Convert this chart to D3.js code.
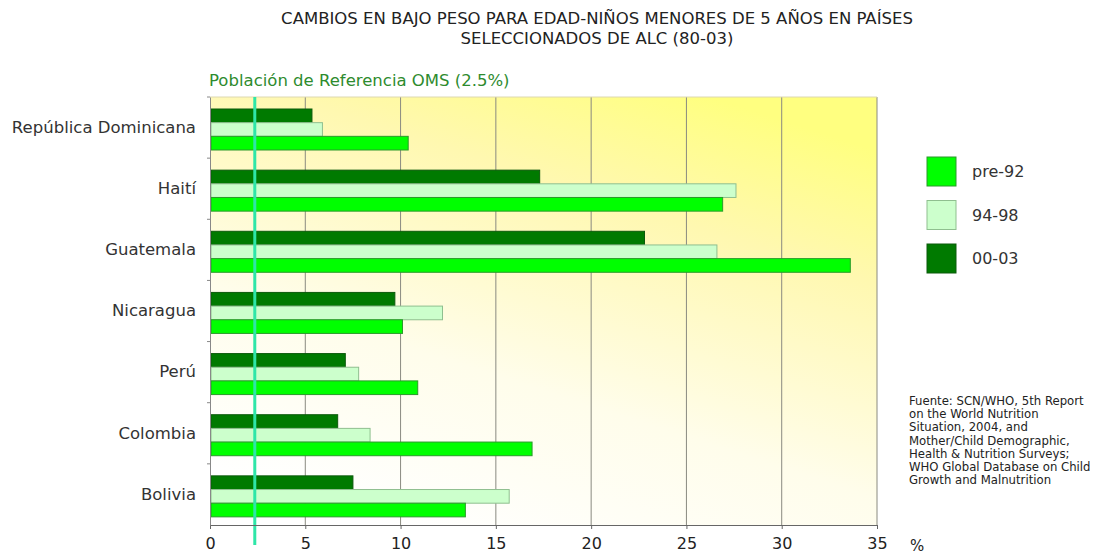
<!DOCTYPE html>
<html lang='en'>
<head>
  <meta charset='utf-8'>
  <script src="https://cdn.jsdelivr.net/npm/d3@7"></script>
  <title>Cambios en bajo peso para edad</title>
  <style>
    body { margin: 0; background: #fff; }
    text { font-family: "DejaVu Sans", sans-serif; }
  </style>
</head>
<body>
  <div id="my_dataviz"></div>

  <script>
    // data
    const countries = ["República Dominicana", "Haití", "Guatemala", "Nicaragua", "Perú", "Colombia", "Bolivia"];
    const periods = ["00-03", "94-98", "pre-92"];   // top to bottom inside each group
    const legendOrder = ["pre-92", "94-98", "00-03"];
    const pre92 = [10.4, 26.9, 33.6, 10.1, 10.9, 16.9, 13.4];
    const p9498 = [5.9, 27.6, 26.6, 12.2, 7.8, 8.4, 15.7];
    const p0003 = [5.35, 17.3, 22.8, 9.7, 7.1, 6.7, 7.5];
    const xTicks = [0, 5, 10, 15, 20, 25, 30, 35];
    const refValue = 2.35;
    const sourceLines = ["Fuente: SCN/WHO, 5th Report", "on the World Nutrition", "Situation, 2004, and",
      "Mother/Child Demographic,", "Health & Nutrition Surveys;", "WHO Global Database on Child",
      "Growth and Malnutrition"];

    const series = {"pre-92": pre92, "94-98": p9498, "00-03": p0003};
    const fill = {"pre-92": "#00ff00", "94-98": "#ccffcc", "00-03": "#007a00"};
    const stroke = {"pre-92": "#2a9a2a", "94-98": "#8fbf8f", "00-03": "#0b5a0b"};

    const margin = {top: 97, left: 210},
          width = 667, height = 428;

    const svg = d3.select("#my_dataviz")
      .append("svg")
      .attr("width", 1095)
      .attr("height", 556);

    // title
    svg.append("text")
      .attr("x", 597).attr("y", 24)
      .attr("text-anchor", "middle")
      .style("font-size", "16.5px").attr("fill", "#222")
      .selectAll("tspan")
      .data(["CAMBIOS EN BAJO PESO PARA EDAD-NIÑOS MENORES DE 5 AÑOS EN PAÍSES", "SELECCIONADOS DE ALC (80-03)"])
      .join("tspan")
        .attr("x", 597)
        .attr("dy", (d, i) => i ? 20 : 0)
        .text(d => d);

    const defs = svg.append("defs");
    const grad = defs.append("linearGradient")
      .attr("id", "bg")
      .attr("x1", 0.25).attr("y1", 1).attr("x2", 0.75).attr("y2", 0);
    grad.append("stop").attr("offset", "0%").attr("stop-color", "#ffffff");
    grad.append("stop").attr("offset", "35%").attr("stop-color", "#fffdeb");
    grad.append("stop").attr("offset", "75%").attr("stop-color", "#fff8b0");
    grad.append("stop").attr("offset", "100%").attr("stop-color", "#ffff80");

    const g = svg.append("g")
      .attr("transform", `translate(${margin.left}, ${margin.top})`);

    const x = d3.scaleLinear().domain([0, 35]).range([0, width]);
    const y = d3.scaleBand().domain(countries).range([0, height]);
    const y1 = d3.scaleBand().domain(periods).range([12, 53]);

    g.append("rect")
      .attr("width", width).attr("height", height)
      .attr("fill", "url(#bg)");

    // vertical grid lines
    g.append("g")
      .selectAll("line")
      .data(xTicks.slice(1))
      .join("line")
        .attr("x1", d => x(d)).attr("x2", d => x(d))
        .attr("y1", 0).attr("y2", height)
        .attr("stroke", "#8a8a80").attr("stroke-width", 1);
    g.append("line")
      .attr("x1", 0).attr("x2", width).attr("y1", 0).attr("y2", 0)
      .attr("stroke", "#ddd8b0");

    // bars
    const groups = g.append("g")
      .selectAll("g")
      .data(countries)
      .join("g")
        .attr("transform", d => `translate(0, ${y(d)})`);
    groups.selectAll("rect")
      .data((c, i) => periods.map(p => ({p: p, v: series[p][i]})))
      .join("rect")
        .attr("x", 1)
        .attr("y", d => y1(d.p))
        .attr("width", d => x(d.v) - 1)
        .attr("height", y1.bandwidth())
        .attr("fill", d => fill[d.p])
        .attr("stroke", d => stroke[d.p])
        .attr("stroke-width", 1);

    // reference line
    g.append("line")
      .attr("x1", x(refValue)).attr("x2", x(refValue))
      .attr("y1", 0).attr("y2", height + 20)
      .attr("stroke", "#2ee6a8").attr("stroke-width", 3);
    svg.append("text")
      .attr("x", 209).attr("y", 86)
      .style("font-size", "16.5px").attr("fill", "#2e8b2e")
      .text("Población de Referencia OMS (2.5%)");

    // axes
    const xAxis = g.append("g")
      .attr("transform", `translate(0, ${height})`)
      .call(d3.axisBottom(x).tickValues(xTicks).tickSize(4).tickPadding(9));
    xAxis.select(".domain").attr("stroke", "#666");
    xAxis.selectAll(".tick line").attr("stroke", "#666");
    xAxis.selectAll("text").style("font-size", "16px").attr("fill", "#222")
      .style("font-family", "'DejaVu Sans', sans-serif");
    svg.append("text")
      .attr("x", 910).attr("y", 551)
      .style("font-size", "15px").attr("fill", "#222")
      .text("%");

    const yAxis = g.append("g")
      .call(d3.axisLeft(y).tickSize(0).tickPadding(14));
    yAxis.select(".domain").attr("stroke", "#888");
    yAxis.selectAll("text").style("font-size", "16.5px").attr("fill", "#333")
      .style("font-family", "'DejaVu Sans', sans-serif");
    g.append("g")
      .selectAll("line")
      .data(countries)
      .join("line")
        .attr("x1", -3).attr("x2", 0)
        .attr("y1", d => y(d)).attr("y2", d => y(d))
        .attr("stroke", "#888");

    // legend
    const legend = svg.append("g")
      .selectAll("g")
      .data(legendOrder)
      .join("g")
        .attr("transform", (d, i) => `translate(927, ${157 + i * 43.5})`);
    legend.append("rect")
      .attr("width", 29).attr("height", 29)
      .attr("fill", d => fill[d])
      .attr("stroke", d => stroke[d]);
    legend.append("text")
      .attr("x", 45).attr("y", 20)
      .style("font-size", "16px").attr("fill", "#333")
      .text(d => d);

    // source note
    svg.append("text")
      .attr("x", 909).attr("y", 405)
      .style("font-size", "11.7px").attr("fill", "#222")
      .selectAll("tspan")
      .data(sourceLines)
      .join("tspan")
        .attr("x", 909)
        .attr("dy", (d, i) => i ? 13.2 : 0)
        .text(d => d);
  </script>
</body>
</html>
